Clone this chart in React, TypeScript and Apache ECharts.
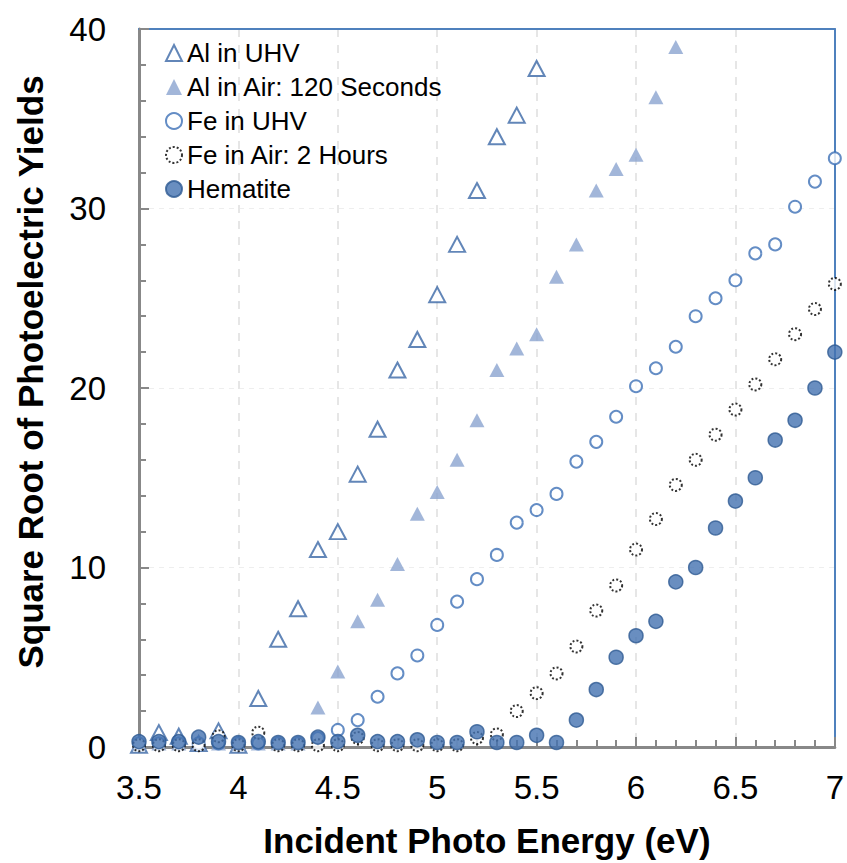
import React, { useEffect, useRef } from "react";
import * as echarts from "echarts";

const energies = [3.5, 3.6, 3.7, 3.8, 3.9, 4.0, 4.1, 4.2, 4.3, 4.4, 4.5, 4.6, 4.7, 4.8, 4.9, 5.0, 5.1, 5.2, 5.3, 5.4, 5.5, 5.6, 5.7, 5.8, 5.9, 6.0, 6.1, 6.2, 6.3, 6.4, 6.5, 6.6, 6.7, 6.8, 6.9, 7.0];

const alUHV = [0.1, 0.8, 0.6, 0.2, 0.9, 0.1, 2.7, 6.0, 7.7, 11.0, 12.0, 15.2, 17.7, 21.0, 22.7, 25.2, 28.0, 31.0, 34.0, 35.2, 37.8];
const alAir = [0.2, 0.2, 0.2, 0.2, 0.2, 0.2, 0.2, 0.2, 0.2, 2.2, 4.2, 7.0, 8.2, 10.2, 13.0, 14.2, 16.0, 18.2, 21.0, 22.2, 23.0, 26.2, 28.0, 31.0, 32.2, 33.0, 36.2, 39.0];
const feUHV = [0.2, 0.2, 0.2, 0.2, 0.2, 0.2, 0.2, 0.2, 0.2, 0.5, 0.95, 1.5, 2.8, 4.1, 5.1, 6.8, 8.1, 9.35, 10.7, 12.5, 13.2, 14.1, 15.9, 17.0, 18.4, 20.1, 21.1, 22.3, 24.0, 25.0, 26.0, 27.5, 28.0, 30.1, 31.5, 32.8];
const feAir = [0.1, 0.1, 0.1, 0.1, 0.6, 0.1, 0.8, 0.1, 0.1, 0.1, 0.1, 0.5, 0.1, 0.1, 0.1, 0.1, 0.1, 0.5, 0.7, 2.0, 3.0, 4.1, 5.6, 7.6, 9.0, 11.0, 12.7, 14.6, 16.0, 17.4, 18.8, 20.2, 21.6, 23.0, 24.4, 25.8];
const hematite = [0.3, 0.3, 0.3, 0.55, 0.3, 0.25, 0.3, 0.25, 0.25, 0.55, 0.3, 0.65, 0.3, 0.3, 0.4, 0.25, 0.25, 0.85, 0.25, 0.25, 0.65, 0.25, 1.5, 3.2, 5.0, 6.2, 7.0, 9.2, 10.0, 12.2, 13.7, 15.0, 17.1, 18.2, 20.0, 22.0];

const seriesNames = ["Al in UHV", "Al in Air: 120 Seconds", "Fe in UHV", "Fe in Air: 2 Hours", "Hematite"];
const xTitle = "Incident Photo Energy (eV)";
const yTitle = "Square Root of Photoelectric Yields";

const pairs = (vals: number[]) => vals.map((v, i) => [energies[i], v]);

export default function App() {
  const ref = useRef<HTMLDivElement>(null);
  useEffect(() => {
    if (!ref.current) return;
    document.body.style.margin = "0";
    document.body.style.overflow = "hidden";
    const chart = echarts.init(ref.current, undefined, { renderer: "svg" });
    const font = "Liberation Sans, Arial, sans-serif";
    const gray = "#888888";
    const blue = "#4f81bd";
    chart.setOption({
      animation: false,
      backgroundColor: "#ffffff",
      grid: { left: 139, right: 11, top: 29, bottom: 114, show: false },
      legend: {
        left: 160,
        top: 35,
        orient: "vertical",
        itemGap: 8,
        itemWidth: 16,
        itemHeight: 16,
        textStyle: { fontFamily: font, fontSize: 26, color: "#000" },
        data: [
          { name: seriesNames[0] },
          { name: seriesNames[1] },
          { name: seriesNames[2] },
          { name: seriesNames[3], itemStyle: { borderType: [2, 2] } },
          { name: seriesNames[4] },
        ],
      },
      xAxis: [
        {
          type: "value",
          min: 3.5,
          max: 7,
          interval: 0.5,
          name: xTitle,
          nameLocation: "middle",
          nameGap: 76,
          nameTextStyle: { fontFamily: font, fontSize: 35, fontWeight: "bold", color: "#000" },
          axisLine: { show: true, lineStyle: { color: gray, width: 3 } },
          axisTick: { show: true, inside: true, length: 10, lineStyle: { color: gray, width: 2 } },
          minorTick: { show: true, splitNumber: 5, length: 7, lineStyle: { color: gray, width: 2 } },
          axisLabel: {
            fontFamily: font,
            fontSize: 33,
            color: "#000",
            margin: 24,
            formatter: (v: number) => String(v),
          },
          splitLine: { show: true, lineStyle: { color: "#e6e6e6", width: 2, type: [8, 8] } },
        },
        {
          type: "value",
          position: "top",
          min: 3.5,
          max: 7,
          interval: 0.5,
          axisLine: { show: true, onZero: false, lineStyle: { color: blue, width: 2 } },
          axisTick: { show: false },
          axisLabel: { show: false },
          splitLine: { show: false },
        },
      ],
      yAxis: [
        {
          type: "value",
          min: 0,
          max: 40,
          interval: 10,
          name: yTitle,
          nameLocation: "middle",
          nameGap: 91,
          nameTextStyle: {
            fontFamily: font,
            fontSize: 35,
            fontWeight: "bold",
            color: "#000",
            padding: [0, 0, 0, 32],
          },
          axisLine: { show: true, lineStyle: { color: gray, width: 3 } },
          axisTick: { show: true, inside: true, length: 10, lineStyle: { color: gray, width: 2 } },
          minorTick: { show: true, splitNumber: 5, length: 7, lineStyle: { color: gray, width: 2 } },
          axisLabel: { fontFamily: font, fontSize: 33, color: "#000", margin: 33 },
          splitLine: { show: true, lineStyle: { color: "#eeeeee", width: 1, type: [5, 5] } },
        },
        {
          type: "value",
          position: "right",
          min: 0,
          max: 40,
          interval: 10,
          axisLine: { show: true, onZero: false, lineStyle: { color: blue, width: 2 } },
          axisTick: { show: false },
          axisLabel: { show: false },
          splitLine: { show: false },
        },
      ],
      series: [
        {
          name: seriesNames[0],
          type: "scatter",
          data: pairs(alUHV),
          symbol: "triangle",
          symbolSize: [16, 15],
          itemStyle: { color: "#ffffff", borderColor: "#3b68a6", borderWidth: 2 },
        },
        {
          name: seriesNames[1],
          type: "scatter",
          data: pairs(alAir),
          symbol: "triangle",
          symbolSize: [15, 14],
          itemStyle: { color: "#8ba4cf", borderColor: "#8ba4cf", borderWidth: 0 },
        },
        {
          name: seriesNames[2],
          type: "scatter",
          data: pairs(feUHV),
          symbol: "circle",
          symbolSize: 12,
          itemStyle: { color: "#ffffff", borderColor: "#3d70b6", borderWidth: 2 },
        },
        {
          name: seriesNames[3],
          type: "scatter",
          data: pairs(feAir),
          symbol: "circle",
          symbolSize: 12,
          itemStyle: { color: "#ffffff", borderColor: "#000000", borderWidth: 2, borderType: [2, 2] },
        },
        {
          name: seriesNames[4],
          type: "scatter",
          data: pairs(hematite),
          symbol: "circle",
          symbolSize: 14,
          itemStyle: { color: "#4472b0", borderColor: "#2e5a92", borderWidth: 1.5 },
        },
      ],
    });
    return () => chart.dispose();
  }, []);
  return <div ref={ref} style={{ position: "fixed", left: 0, top: 0, width: 847, height: 863 }} />;
}
